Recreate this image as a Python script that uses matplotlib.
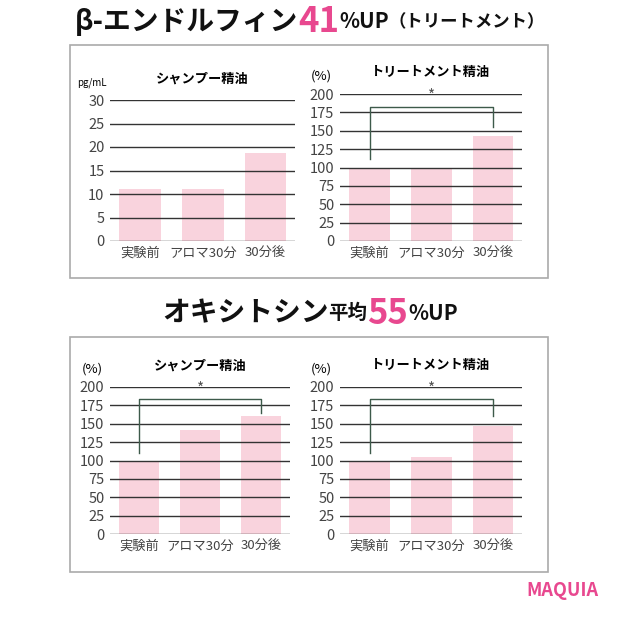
import matplotlib
matplotlib.use("Agg")
import matplotlib.pyplot as plt
from matplotlib.patches import Rectangle

plt.rcParams["font.family"] = "Noto Sans CJK JP"

categories = ["実験前", "アロマ30分", "30分後"]
beta_shampoo = [11, 11, 18.7]
beta_treat = [100, 100, 143]
oxy_shampoo = [100, 142, 161]
oxy_treat = [100, 105, 147]
W, H = 620, 620
fig = plt.figure(figsize=(6.2, 6.2), dpi=100)
PINK = "#f9d3dd"
MAG = "#e8488f"

def ax_at(x0, y0, x1, y1):
    return fig.add_axes([x0 / W, 1 - y1 / H, (x1 - x0) / W, (y1 - y0) / H])

for (y0, y1) in [(45, 278), (337, 572)]:
    fig.patches.append(Rectangle((70 / W, 1 - y1 / H), 478 / W, (y1 - y0) / H,
                                 transform=fig.transFigure, fill=False, ec="#aaaaaa", lw=1.2))

def panel(rect, vals, ymax, step, title, unit, bracket=None):
    ax = ax_at(*rect)
    x = range(len(vals))
    ax.bar(x, vals, width=0.66, color=PINK, zorder=1)
    for t in range(0, ymax + 1, step):
        ax.axhline(t, color="#333333", lw=1.0, zorder=2)
    ax.set_ylim(0, ymax)
    ax.set_xlim(-0.48, 2.47)
    ax.set_yticks(range(0, ymax + 1, step))
    ax.set_xticks(list(x))
    ax.set_xticklabels(categories, fontsize=9.5)
    ax.tick_params(length=0, labelsize=10.5, colors="#444444", pad=4)
    for lab in ax.get_xticklabels():
        lab.set_fontsize(9.5)
    for s in ax.spines.values():
        s.set_visible(False)
    ax.text(0.5, 1.12, title, transform=ax.transAxes, ha="center", fontsize=9.5, fontweight="bold")
    ax.text(-0.1, 1.1, unit, transform=ax.transAxes, ha="center", fontsize=7 if unit == "pg/mL" else 9.5)
    if bracket:
        l, top, r = bracket
        ax.plot([0, 0, 2, 2], [l, top, top, r], color="#3d5a4a", lw=1.0, zorder=3)
        ax.text(1, top + 3, "*", ha="center", va="bottom", fontsize=11, color="#555555")
    return ax

panel((110, 100, 295, 241), beta_shampoo, 30, 5, "シャンプー精油", "pg/mL")
panel((340, 94, 522, 241), beta_treat, 200, 25, "トリートメント精油", "(%)", (112, 182, 155))
panel((110, 387, 290, 534), oxy_shampoo, 200, 25, "シャンプー精油", "(%)", (110, 183, 165))
panel((340, 387, 522, 534), oxy_treat, 200, 25, "トリートメント精油", "(%)", (110, 183, 160))

def title(y, parts):
    renderer = fig.canvas.get_renderer()
    texts = []
    total = 0
    for s, sz, c in parts:
        t = fig.text(0, 1 - y / H, s, fontsize=sz, color=c, fontweight="bold", va="center")
        w = t.get_window_extent(renderer).width
        texts.append((t, w))
        total += w
    x = (W - total) / 2
    for t, w in texts:
        t.set_x(x / W)
        x += w

title(22, [("β-エンドルフィン", 20, "#111111"), ("41", 25, MAG), ("%UP", 15, "#111111"), ("（トリートメント）", 12.5, "#111111")])
title(313, [("オキシトシン", 20, "#111111"), ("平均", 14, "#111111"), ("55", 25, MAG), ("%UP", 15, "#111111")])
fig.text(598 / W, 1 - 590 / H, "MAQUIA", fontsize=13, color=MAG, fontweight="bold", ha="right", va="center")

fig.savefig("out.png", dpi=100)
